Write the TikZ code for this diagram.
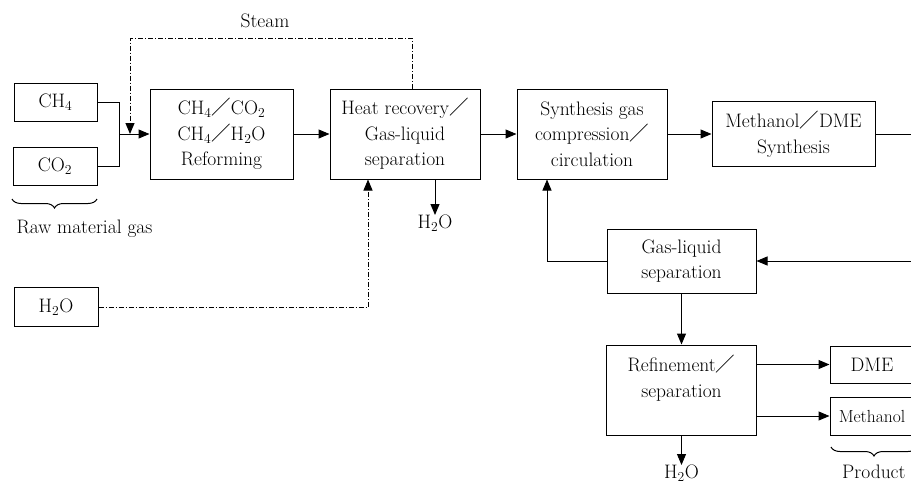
\documentclass[tikz,border=0pt]{standalone}
\usepackage{fontspec}
\newfontfamily\cjk{Noto Sans CJK JP}
\usetikzlibrary{arrows.meta,decorations.pathreplacing}
\newcommand{\fwslash}{{\cjk ／}}
\begin{document}
\begin{tikzpicture}[x=1pt,y=-1pt,
  every node/.style={font=\fontsize{19.5}{25.5}\selectfont},
  box/.style={draw, line width=1pt, inner sep=0pt, align=center},
  arr/.style={line width=1pt, -{Triangle[length=11pt,width=9pt]}},
  ln/.style={line width=1pt},
  dd/.style={line width=1pt, dash pattern=on 5pt off 2pt on 1pt off 2pt},
  lbl/.style={inner sep=0pt}]
\useasboundingbox (0,0) rectangle (911,483);
\clip (0,0) rectangle (911,483);
\fill[white] (0,0) rectangle (911,483);
% input boxes
\node[box, minimum width=83pt, minimum height=38pt] (ch4) at (55.5,102) {CH\textsubscript{4}};
\node[box, minimum width=84pt, minimum height=38pt] (co2) at (55,166) {CO\textsubscript{2}};
\node[box, minimum width=84pt, minimum height=39pt] (h2o) at (56,307) {H\textsubscript{2}O};
% process boxes
\node[box, minimum width=143pt, minimum height=90pt] (ref) at (221.5,134) {CH\textsubscript{4}\fwslash CO\textsubscript{2}\\CH\textsubscript{4}\fwslash H\textsubscript{2}O\\Reforming};
\node[box, minimum width=150pt, minimum height=90pt] (heat) at (405,134) {Heat recovery\fwslash\\Gas-liquid\\separation};
\node[box, minimum width=150pt, minimum height=90pt] (syn) at (592,134) {Synthesis gas\\compression\fwslash\\circulation};
\node[box, minimum width=163pt, minimum height=65pt] (med) at (793.5,134) {Methanol\fwslash DME\\Synthesis};
\node[box, minimum width=149pt, minimum height=64pt] (gl) at (681.5,261) {Gas-liquid\\separation};
\node[box, minimum width=150pt, minimum height=90pt] (rf) at (681.5,390) {};
\node[lbl, align=center] (rft) at (681.5,378) {Refinement\fwslash\\separation};
\node[box, minimum width=84pt, minimum height=37pt] (dme) at (872,364.5) {DME};
\node[box, minimum width=84pt, minimum height=38pt, font=\fontsize{17.5}{22}\selectfont] (meth) at (872,416) {Methanol};
% labels
\node[lbl] (steam) at (265,21) {Steam};
\node[lbl] (raw) at (84.5,229) {Raw material gas};
\node[lbl, anchor=north] (w1) at (435,215) {H\textsubscript{2}O};
\node[lbl, anchor=north] (w2) at (681.5,465) {H\textsubscript{2}O};
\node[lbl, anchor=west] (prod) at (842,472) {Product};
% coordinates
\coordinate (j) at (119,134);
\coordinate (sj) at (130,134);
\coordinate (s1) at (130,38);
\coordinate (out1) at (911,134);
\coordinate (in1) at (911,261);
% connectors
\draw[ln] (ch4.east) -| (j);
\draw[ln] (co2.east) -| (j);
\draw[arr] (j) -- (ref.west);
\draw[dd,arr] ([xshift=7pt]heat.north) |- (s1) -- (sj);
\draw[arr] (ref.east) -- (heat.west);
\draw[arr] ([xshift=30pt]heat.south) -- (w1.north);
\draw[dd,arr] (h2o.east) -| ([xshift=-37pt]heat.south);
\draw[arr] (heat.east) -- (syn.west);
\draw[arr] (syn.east) -- (med.west);
\draw[ln] (med.east) -- (out1);
\draw[arr] (in1) -- (gl.east);
\draw[arr] (gl.west) -| ([xshift=-45pt]syn.south);
\draw[arr] (gl.south) -- (rf.north);
\draw[arr] (rf.east |- dme.west) -- (dme.west);
\draw[arr] (rf.east |- meth.west) -- (meth.west);
\draw[arr] (rf.south) -- (w2.north);
% braces
\draw[ln, decorate, decoration={brace, mirror, amplitude=9pt}] (831,447) -- (917,447);
\draw[ln, decorate, decoration={brace, mirror, amplitude=9pt}] (12,199) -- (97,199);
\end{tikzpicture}
\end{document}
